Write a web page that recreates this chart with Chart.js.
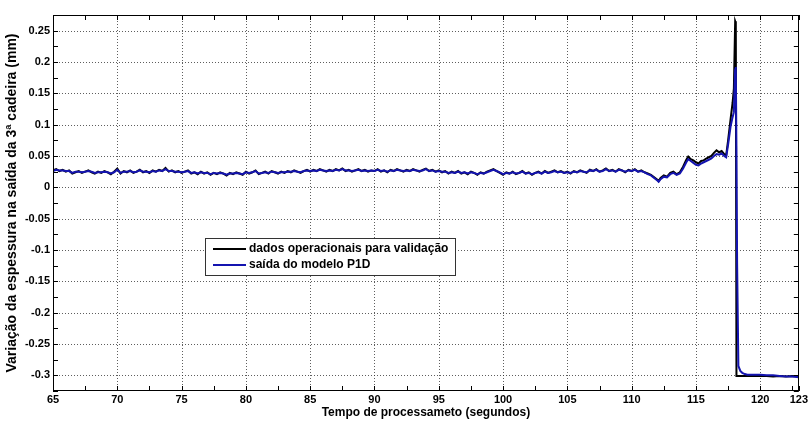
<!DOCTYPE html>
<html lang="pt">
<head>
<meta charset="utf-8">
<title>Variação da espessura na saída da 3ª cadeira</title>
<script src="https://cdn.jsdelivr.net/npm/chart.js@4.4.1/dist/chart.umd.min.js"></script>
<style>
  html, body { margin: 0; padding: 0; background: #ffffff; }
  #chart { display: block; }
</style>
</head>
<body>
<canvas id="chart" width="810" height="423"></canvas>
<script>
// Sample instants (s)
const timeSec = [
  65, 65.25, 65.5, 65.75, 66, 66.25, 66.5, 66.75, 67, 67.25, 67.5, 67.75, 68, 68.25, 68.5, 68.75, 69, 69.25, 69.5, 69.75,
  70, 70.25, 70.5, 70.75, 71, 71.25, 71.5, 71.75, 72, 72.25, 72.5, 72.75, 73, 73.25, 73.5, 73.75, 74, 74.25, 74.5, 74.75,
  75, 75.25, 75.5, 75.75, 76, 76.25, 76.5, 76.75, 77, 77.25, 77.5, 77.75, 78, 78.25, 78.5, 78.75, 79, 79.25, 79.5, 79.75,
  80, 80.25, 80.5, 80.75, 81, 81.25, 81.5, 81.75, 82, 82.25, 82.5, 82.75, 83, 83.25, 83.5, 83.75, 84, 84.25, 84.5, 84.75,
  85, 85.25, 85.5, 85.75, 86, 86.25, 86.5, 86.75, 87, 87.25, 87.5, 87.75, 88, 88.25, 88.5, 88.75, 89, 89.25, 89.5, 89.75,
  90, 90.25, 90.5, 90.75, 91, 91.25, 91.5, 91.75, 92, 92.25, 92.5, 92.75, 93, 93.25, 93.5, 93.75, 94, 94.25, 94.5, 94.75,
  95, 95.25, 95.5, 95.75, 96, 96.25, 96.5, 96.75, 97, 97.25, 97.5, 97.75, 98, 98.25, 98.5, 98.75, 99, 99.25, 99.5, 99.75,
  100, 100.25, 100.5, 100.75, 101, 101.25, 101.5, 101.75, 102, 102.25, 102.5, 102.75, 103, 103.25, 103.5, 103.75, 104, 104.25, 104.5, 104.75,
  105, 105.25, 105.5, 105.75, 106, 106.25, 106.5, 106.75, 107, 107.25, 107.5, 107.75, 108, 108.25, 108.5, 108.75, 109, 109.25, 109.5, 109.75,
  110, 110.25, 110.5, 110.75, 111,
  111.25, 111.5, 111.75, 112, 112.1, 112.25, 112.5, 112.75, 113, 113.25, 113.5, 113.75, 114, 114.25, 114.4, 114.6, 114.8,
  115, 115.2, 115.4, 115.6, 115.8, 116, 116.2, 116.4, 116.6, 116.8, 117, 117.2, 117.35, 117.5, 117.7, 117.85, 117.95,
  118.05, 118.1, 118.15, 118.2, 118.3, 118.45, 118.6, 118.8, 119, 119.5, 120, 120.5, 121, 121.5, 122, 122.5, 123
];

// Dados operacionais (mm)
const measured = [
  0.027, 0.029, 0.026, 0.028, 0.025, 0.027, 0.022, 0.024, 0.026, 0.023, 0.025, 0.027, 0.024, 0.022, 0.025, 0.023, 0.026, 0.024, 0.021, 0.025,
  0.030, 0.022, 0.026, 0.024, 0.027, 0.023, 0.025, 0.028, 0.024, 0.026, 0.023, 0.027, 0.025, 0.028, 0.026, 0.031, 0.025, 0.027, 0.024, 0.026,
  0.023, 0.025, 0.027, 0.022, 0.024, 0.021, 0.025, 0.022, 0.024, 0.020, 0.023, 0.021, 0.024, 0.022, 0.019, 0.023, 0.021, 0.024, 0.022, 0.020,
  0.025, 0.022, 0.024, 0.027, 0.021, 0.023, 0.025, 0.022, 0.026, 0.024, 0.022, 0.025, 0.023, 0.026, 0.024, 0.027, 0.025, 0.023, 0.026, 0.028,
  0.025, 0.028, 0.026, 0.029, 0.027, 0.025, 0.028, 0.026, 0.029, 0.027, 0.030, 0.026, 0.028, 0.025, 0.027, 0.029, 0.026, 0.028, 0.025, 0.027,
  0.026, 0.029, 0.025, 0.027, 0.024, 0.028, 0.026, 0.029, 0.027, 0.025, 0.028, 0.026, 0.029, 0.027, 0.025, 0.028, 0.030, 0.026, 0.028, 0.025,
  0.027, 0.024, 0.026, 0.022, 0.025, 0.023, 0.026, 0.022, 0.024, 0.021, 0.025, 0.023, 0.020, 0.024, 0.022, 0.025, 0.027, 0.029, 0.026, 0.023,
  0.020, 0.024, 0.022, 0.025, 0.021, 0.023, 0.026, 0.022, 0.024, 0.020, 0.023, 0.025, 0.022, 0.026, 0.023, 0.025, 0.027, 0.024, 0.026, 0.023,
  0.025, 0.022, 0.026, 0.024, 0.027, 0.025, 0.023, 0.028, 0.026, 0.029, 0.025, 0.027, 0.030, 0.026, 0.028, 0.025, 0.029, 0.027, 0.024, 0.028,
  0.026, 0.029, 0.025, 0.027, 0.024,
  0.022, 0.020, 0.016, 0.012, 0.010, 0.015, 0.019, 0.017, 0.023, 0.025, 0.021, 0.024, 0.033, 0.044, 0.049, 0.045, 0.043,
  0.040, 0.038, 0.042, 0.043, 0.046, 0.048, 0.050, 0.055, 0.059, 0.056, 0.058, 0.053, 0.051, 0.075, 0.110, 0.135, 0.158,
  0.265, 0.262, -0.301, -0.301, -0.301, -0.301, -0.301, -0.301, -0.301, -0.301, -0.301, -0.301, -0.302, -0.301, -0.302, -0.301, -0.302
];

// Saída do modelo P1D (mm)
const model = [
  0.026, 0.028, 0.027, 0.027, 0.026, 0.026, 0.023, 0.025, 0.025, 0.024, 0.025, 0.026, 0.025, 0.023, 0.024, 0.024, 0.025, 0.024, 0.022, 0.024,
  0.028, 0.023, 0.025, 0.025, 0.026, 0.024, 0.025, 0.027, 0.025, 0.025, 0.024, 0.026, 0.025, 0.027, 0.026, 0.029, 0.026, 0.026, 0.025, 0.025,
  0.024, 0.025, 0.026, 0.023, 0.024, 0.022, 0.024, 0.023, 0.023, 0.021, 0.023, 0.022, 0.023, 0.022, 0.020, 0.022, 0.022, 0.023, 0.022, 0.021,
  0.024, 0.023, 0.024, 0.026, 0.022, 0.023, 0.024, 0.023, 0.025, 0.024, 0.023, 0.024, 0.024, 0.025, 0.025, 0.026, 0.025, 0.024, 0.026, 0.027,
  0.026, 0.027, 0.026, 0.028, 0.027, 0.026, 0.027, 0.026, 0.028, 0.027, 0.029, 0.027, 0.027, 0.026, 0.027, 0.028, 0.026, 0.027, 0.026, 0.027,
  0.026, 0.028, 0.026, 0.027, 0.025, 0.027, 0.026, 0.028, 0.027, 0.026, 0.027, 0.026, 0.028, 0.027, 0.026, 0.027, 0.029, 0.026, 0.027, 0.025,
  0.026, 0.025, 0.025, 0.023, 0.024, 0.023, 0.025, 0.023, 0.024, 0.022, 0.024, 0.023, 0.021, 0.023, 0.022, 0.024, 0.026, 0.028, 0.026, 0.024,
  0.021, 0.023, 0.022, 0.024, 0.022, 0.023, 0.025, 0.022, 0.023, 0.021, 0.023, 0.024, 0.022, 0.025, 0.023, 0.024, 0.026, 0.024, 0.025, 0.023,
  0.024, 0.023, 0.025, 0.024, 0.026, 0.025, 0.024, 0.027, 0.026, 0.028, 0.025, 0.026, 0.029, 0.026, 0.027, 0.025, 0.028, 0.027, 0.025, 0.027,
  0.026, 0.028, 0.025, 0.026, 0.024,
  0.021, 0.019, 0.015, 0.011, 0.009, 0.013, 0.017, 0.016, 0.021, 0.023, 0.020, 0.022, 0.030, 0.040, 0.045, 0.042, 0.039,
  0.036, 0.035, 0.038, 0.040, 0.042, 0.044, 0.046, 0.050, 0.053, 0.052, 0.054, 0.050, 0.048, 0.068, 0.098, 0.112, 0.120,
  0.188, 0.192, 0.060, -0.120, -0.285, -0.293, -0.296, -0.298, -0.299, -0.299, -0.299, -0.300, -0.300, -0.301, -0.302, -0.302, -0.303
];

// Axis ticks
const xTickValues = [65, 70, 75, 80, 85, 90, 95, 100, 105, 110, 115, 120, 123];
const yTickValues = [-0.3, -0.25, -0.2, -0.15, -0.1, -0.05, 0, 0.05, 0.1, 0.15, 0.2, 0.25];
const xMinorValues = [67.5, 72.5, 77.5, 82.5, 87.5, 92.5, 97.5, 102.5, 107.5, 112.5, 117.5, 122.5];
const yMinorValues = [-0.325, -0.275, -0.225, -0.175, -0.125, -0.075, -0.025, 0.025, 0.075, 0.125, 0.175, 0.225, 0.275];

const seriesNames = ['dados operacionais para validação', 'saída do modelo P1D'];
const seriesColors = ['#000000', '#1414b0'];

const FONT = "'Liberation Sans', Arial, Helvetica, sans-serif";
const TICK_FONT = "'Liberation Sans Narrow', 'Liberation Sans', Arial, sans-serif";

const toPoints = vals => timeSec.map((t, i) => ({ x: t, y: vals[i] }));

// Dotted grid, boxed frame with inward ticks on all sides, and the legend box
const axesBox = {
  id: 'axesBox',
  beforeDatasetsDraw(chart) {
    const { ctx, chartArea: a, scales: { x, y } } = chart;
    ctx.save();
    ctx.strokeStyle = 'rgba(40,40,40,0.75)';
    ctx.lineWidth = 1;
    ctx.setLineDash([1, 2]);
    xTickValues.forEach(v => {
      const px = Math.round(x.getPixelForValue(v)) + 0.5;
      if (px <= a.left + 1 || px >= a.right - 1) return;
      ctx.beginPath(); ctx.moveTo(px, a.top); ctx.lineTo(px, a.bottom); ctx.stroke();
    });
    yTickValues.forEach(v => {
      const py = Math.round(y.getPixelForValue(v)) + 0.5;
      if (py <= a.top + 1 || py >= a.bottom - 1) return;
      ctx.beginPath(); ctx.moveTo(a.left, py); ctx.lineTo(a.right, py); ctx.stroke();
    });
    ctx.restore();
  },
  afterDatasetsDraw(chart) {
    const { ctx, chartArea: a, scales: { x, y } } = chart;
    ctx.save();
    ctx.strokeStyle = '#000';
    ctx.lineWidth = 1;
    ctx.setLineDash([]);
    ctx.strokeRect(Math.round(a.left) + 0.5, Math.round(a.top) + 0.5,
                   Math.round(a.right - a.left) - 1, Math.round(a.bottom - a.top) - 1);
    const tl = 5;
    ctx.beginPath();
    xTickValues.concat(xMinorValues).forEach(v => {
      const px = Math.round(x.getPixelForValue(v)) + 0.5;
      ctx.moveTo(px, a.bottom); ctx.lineTo(px, a.bottom - tl);
      ctx.moveTo(px, a.top); ctx.lineTo(px, a.top + tl);
    });
    yTickValues.concat(yMinorValues).forEach(v => {
      const py = Math.round(y.getPixelForValue(v)) + 0.5;
      ctx.moveTo(a.left, py); ctx.lineTo(a.left + tl, py);
      ctx.moveTo(a.right, py); ctx.lineTo(a.right - tl, py);
    });
    ctx.stroke();

    // legend
    const lx = 205, ly = 238, lw = 251, lh = 38;
    ctx.fillStyle = '#fff';
    ctx.fillRect(lx, ly, lw, lh);
    ctx.strokeStyle = '#333';
    ctx.strokeRect(lx + 0.5, ly + 0.5, lw - 1, lh - 1);
    ctx.font = `bold 12px ${FONT}`;
    ctx.textBaseline = 'middle';
    ctx.textAlign = 'left';
    seriesNames.forEach((name, i) => {
      const ry = ly + 11 + i * 16;
      ctx.strokeStyle = seriesColors[i];
      ctx.lineWidth = 2;
      ctx.beginPath(); ctx.moveTo(213, ry); ctx.lineTo(246, ry); ctx.stroke();
      ctx.fillStyle = '#000';
      ctx.fillText(name, 249, ry);
    });
    ctx.restore();
  }
};

new Chart(document.getElementById('chart'), {
  type: 'line',
  data: {
    datasets: [
      { label: seriesNames[0], data: toPoints(measured), borderColor: seriesColors[0], borderWidth: 2, order: 2 },
      { label: seriesNames[1], data: toPoints(model), borderColor: seriesColors[1], borderWidth: 2, order: 1 }
    ]
  },
  options: {
    responsive: false,
    animation: false,
    layout: { padding: { top: 15, right: 10, left: 0, bottom: 0 } },
    elements: { point: { radius: 0 }, line: { tension: 0, fill: false } },
    plugins: { legend: { display: false }, tooltip: { enabled: false } },
    scales: {
      x: {
        type: 'linear', min: 65, max: 123,
        grid: { display: false, drawTicks: false }, border: { display: false },
        afterBuildTicks: s => { s.ticks = xTickValues.map(v => ({ value: v })); },
        afterFit: s => { s.height = 32; },
        ticks: {
          autoSkip: false, maxRotation: 0, padding: 2, color: '#000',
          font: { family: TICK_FONT, size: 11, weight: 'bold' },
          callback: v => String(v)
        },
        title: {
          display: true, text: 'Tempo de processameto (segundos)', color: '#000',
          font: { family: FONT, size: 12, weight: 'bold' }, padding: { top: 0, bottom: 3 }
        }
      },
      y: {
        type: 'linear', min: -0.325, max: 0.275,
        grid: { display: false, drawTicks: false }, border: { display: false },
        afterBuildTicks: s => { s.ticks = yTickValues.map(v => ({ value: v })); },
        afterFit: s => { s.width = 53; },
        ticks: {
          autoSkip: false, padding: 3, color: '#000',
          font: { family: TICK_FONT, size: 11, weight: 'bold' },
          callback: v => String(Number(v.toFixed(3)))
        },
        title: {
          display: true, text: 'Variação da espessura na saída da 3ª cadeira (mm)', color: '#000',
          font: { family: FONT, size: 14, weight: 'bold' }, padding: { top: 4, bottom: 0 }
        }
      }
    }
  },
  plugins: [axesBox]
});
</script>
</body>
</html>
